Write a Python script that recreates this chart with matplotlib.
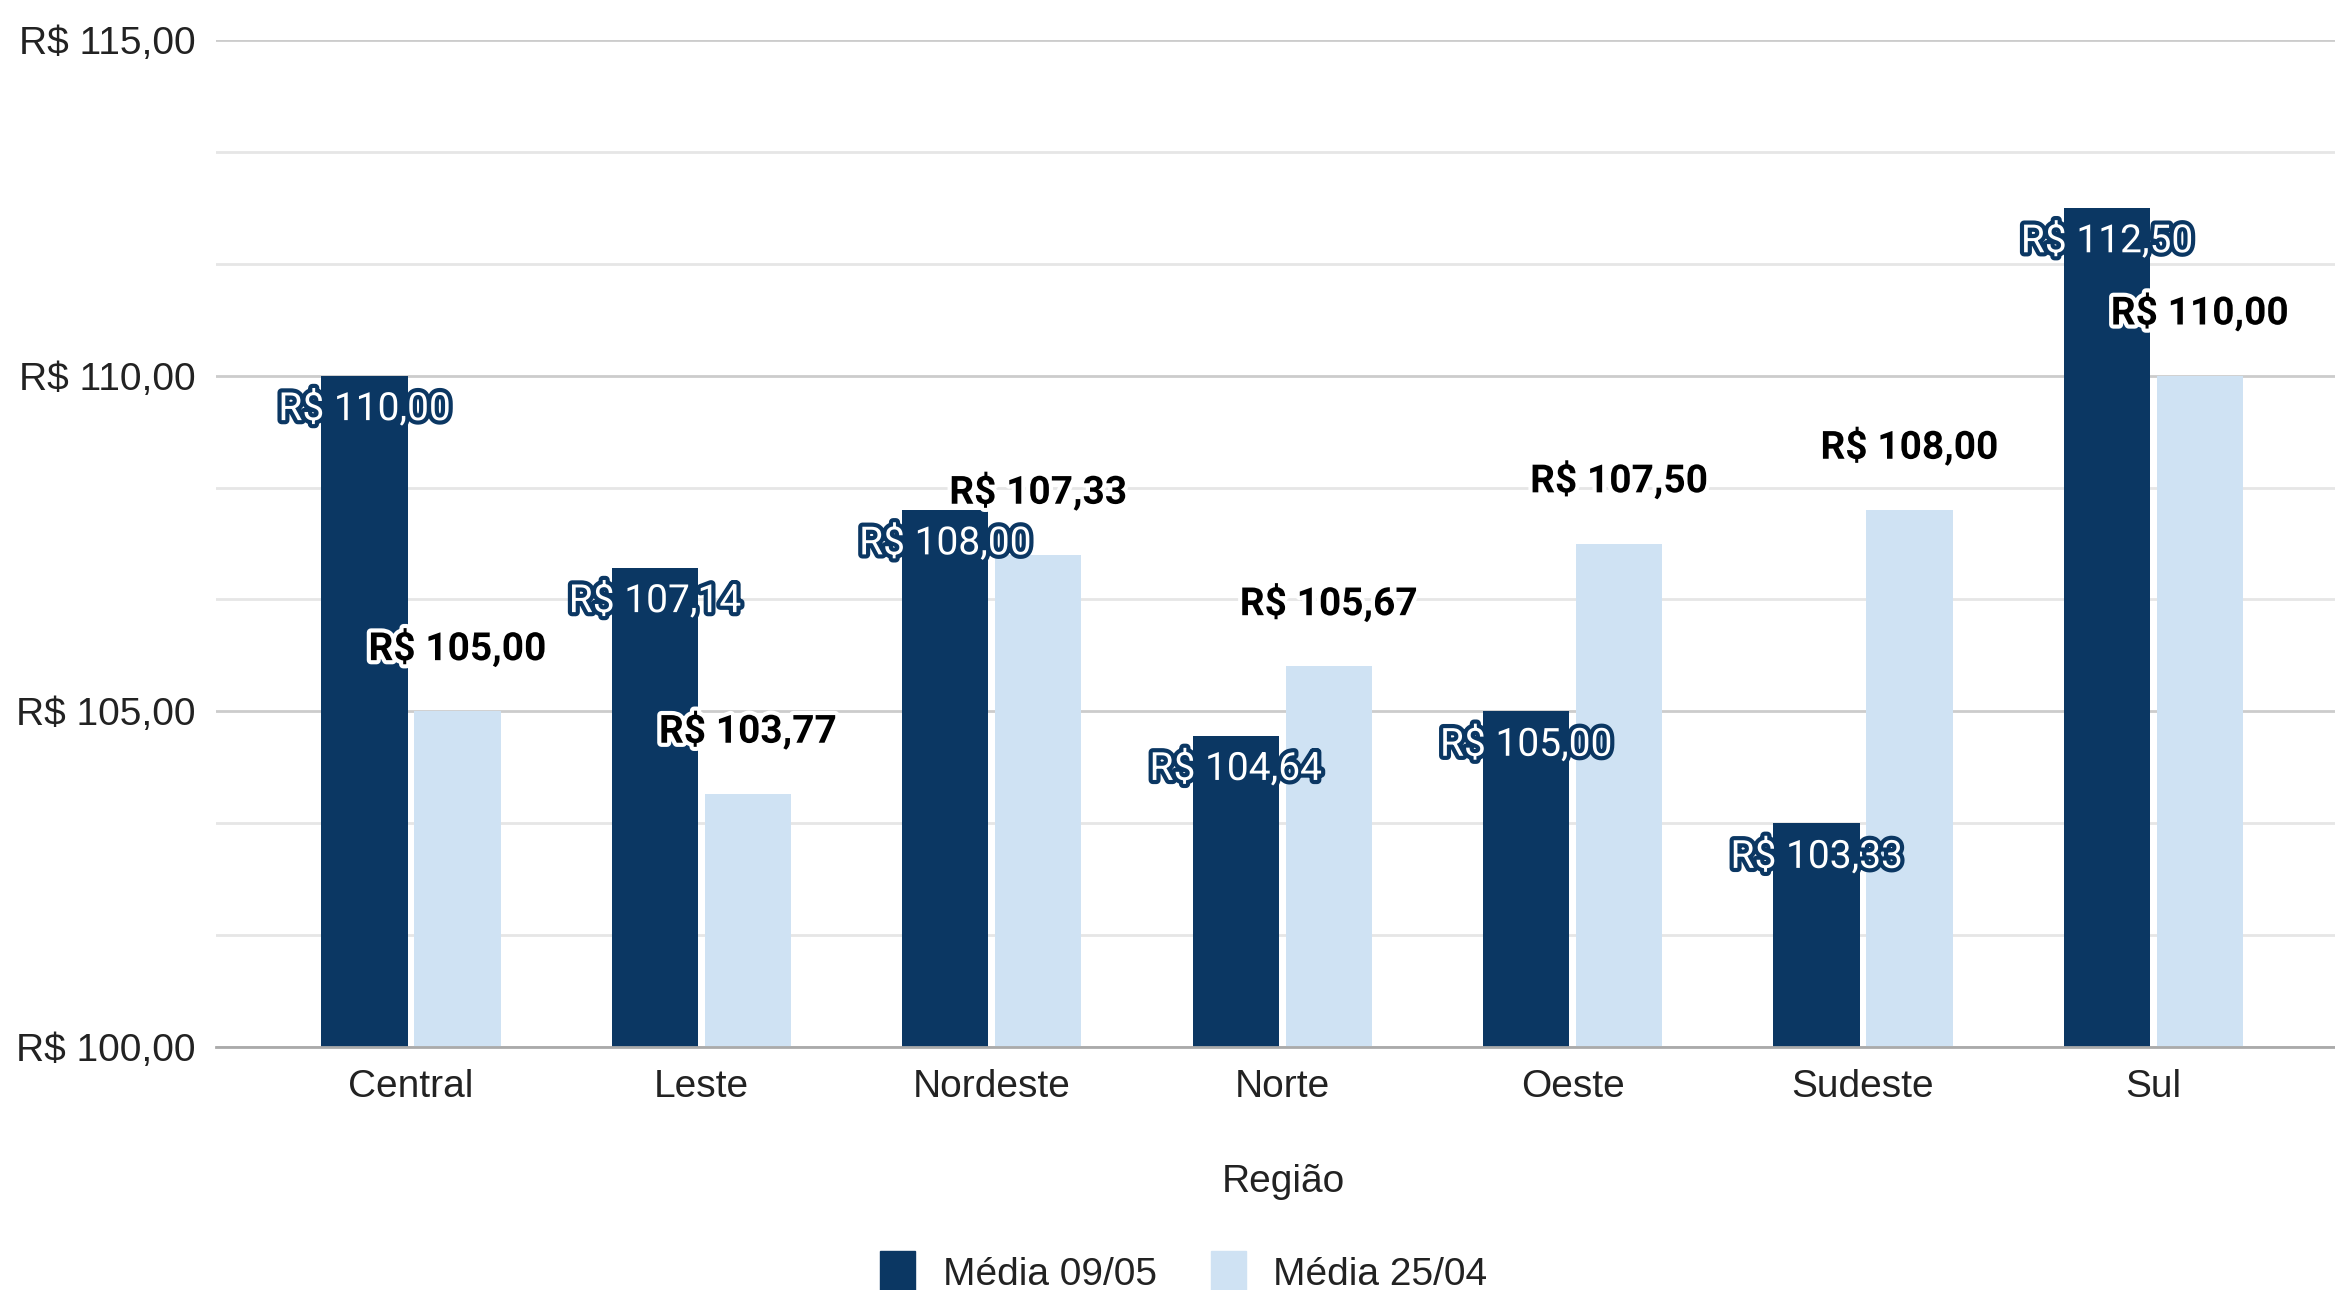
import matplotlib
matplotlib.use("Agg")
import matplotlib.pyplot as plt
import matplotlib.patheffects as pe
from matplotlib.patches import Patch
import numpy as np

regions = ["Central", "Leste", "Nordeste", "Norte", "Oeste", "Sudeste", "Sul"]
media_0905 = [110.00, 107.14, 108.00, 104.64, 105.00, 103.33, 112.50]
media_2504 = [105.00, 103.77, 107.33, 105.67, 107.50, 108.00, 110.00]
series_names = ["Média 09/05", "Média 25/04"]
yticks = [100, 105, 110, 115]

dark = "#0b3763"
light = "#cfe2f3"

def brl(v):
    s = f"{v:,.2f}".replace(",", "X").replace(".", ",").replace("X", ".")
    return f"R$ {s}"

fig = plt.figure(figsize=(23.35, 12.9), dpi=100)
ax = fig.add_axes([216/2335, 1-1047/1290, 1-216/2335, (1047-40)/1290])

x = np.arange(len(regions))
w = 0.297
off = 0.16
ax.bar(x - off, [v - 100 for v in media_0905], w, bottom=100, color=dark, zorder=3)
ax.bar(x + off, [v - 100 for v in media_2504], w, bottom=100, color=light, zorder=3)

for xi, v in zip(x, media_0905):
    ax.annotate(brl(v), (xi - off, v), xytext=(0, -24), textcoords="offset points",
                ha="center", va="center", fontsize=28, family="Roboto", color="white",
                zorder=5, path_effects=[pe.withStroke(linewidth=6, foreground=dark)])
for xi, v in zip(x, media_2504):
    ax.annotate(brl(v), (xi + off, v), xytext=(0, 45), textcoords="offset points",
                ha="center", va="center", fontsize=28, family="Roboto", fontweight="bold",
                color="black", zorder=5,
                path_effects=[pe.withStroke(linewidth=6, foreground="white")])

ax.set_xlim((216-411)/290.4, (2335-411)/290.4)
ax.set_ylim(100, 115)
ax.set_yticks(yticks)
ax.set_yticklabels([brl(t) for t in yticks], family="Liberation Sans", fontsize=28, color="#222222")
ax.set_yticks([100 + 5*k/3 for k in range(10) if k % 3 != 0], minor=True)
ax.grid(axis="y", which="major", color="#cccccc", linewidth=2, zorder=0)
ax.grid(axis="y", which="minor", color="#e6e6e6", linewidth=2, zorder=0)
ax.tick_params(axis="y", which="both", length=0, pad=15)
ax.set_xticks(x)
ax.set_xticklabels(regions, family="Liberation Sans", fontsize=28, color="#222222")
ax.tick_params(axis="x", length=0, pad=16)
for s in ["top", "right", "left"]:
    ax.spines[s].set_visible(False)
ax.spines["bottom"].set_color("#aaaaaa")
ax.spines["bottom"].set_linewidth(2)
ax.spines["bottom"].set_zorder(4)

fig.text((862*1.489)/2335, 1-1182/1290, "Região", ha="center", va="center",
         family="Liberation Sans", fontsize=28, color="#222222")

handles = [Patch(color=dark), Patch(color=light)]
fig.legend(handles, series_names, loc="center", bbox_to_anchor=(1184/2335, 1-1272/1290),
           ncol=2, frameon=False, prop={"family": "Liberation Sans", "size": 28},
           handlelength=0.9, handleheight=1.25, handletextpad=0.7, columnspacing=1.4,
           labelcolor="#222222")

fig.savefig("out.png", dpi=100, facecolor="white")
